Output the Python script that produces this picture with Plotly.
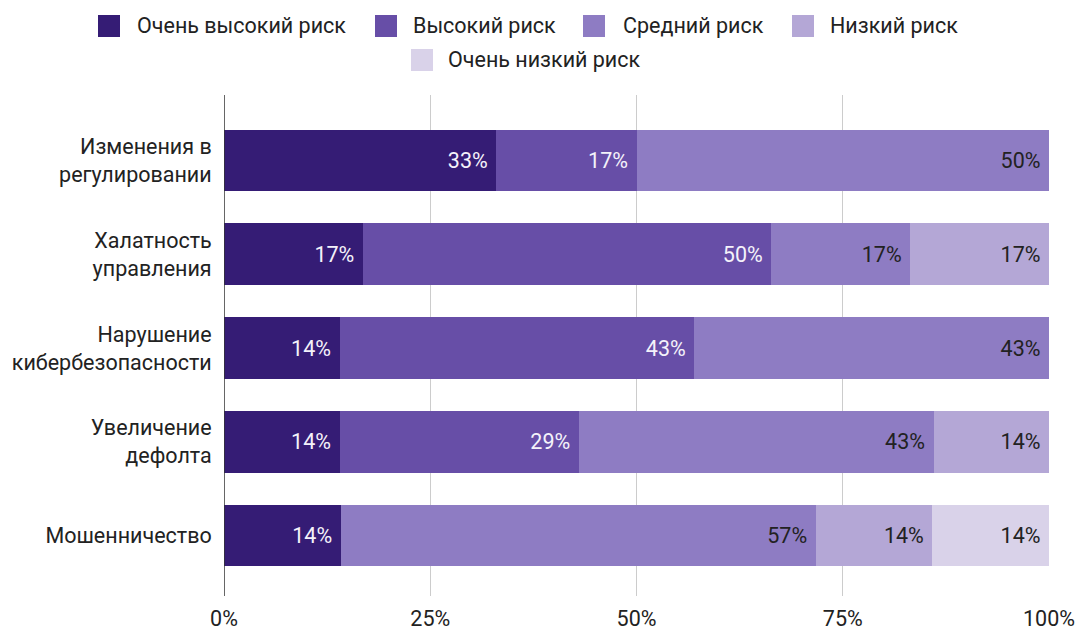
import plotly.graph_objects as go

categories = ["Изменения в<br>регулировании", "Халатность<br>управления", "Нарушение<br>кибербезопасности",
              "Увеличение<br>дефолта", "Мошенничество"]
series_names = ["Очень высокий риск", "Высокий риск", "Средний риск", "Низкий риск", "Очень низкий риск"]
very_high = [33, 17, 14, 14, 14]
high = [17, 50, 43, 29, None]
medium = [50, 17, 43, 43, 57]
low = [None, 17, None, 14, 14]
very_low = [None, None, None, None, 14]
colors = ["#351c75", "#674ea7", "#8e7cc3", "#b4a7d6", "#d9d2e9"]
text_colors = ["#f4f2fa", "#f4f2fa", "#222222", "#222222", "#222222"]
tick_vals = [0, 25, 50, 75, 100]
tick_text = ["0%", "25%", "50%", "75%", "100%"]

FONT = "Roboto"
FS = 21.5
W, H = 1078, 633
L, R, T, B = 224, 29, 95, 37
PW, PH = W - L - R, H - T - B

fig = go.Figure()
for name, vals, col, tcol in zip(series_names, [very_high, high, medium, low, very_low], colors, text_colors):
    fig.add_trace(go.Bar(
        y=categories, x=vals, name=name, orientation="h",
        marker=dict(color=col, line=dict(width=0)),
        text=[f"{v}%\u2005" if v is not None else "" for v in vals],
        textposition="inside", insidetextanchor="end",
        textfont=dict(color=tcol, size=FS, family=FONT),
        constraintext="none", showlegend=False,
        hoverinfo="skip",
    ))


# custom legend (pixel positions -> paper coordinates)
def px(x):
    return (x - L) / PW


def py(y):
    return 1 - (y - T) / PH


legend_items = [
    (98, 137, 26), (375, 413, 26), (583, 623, 26), (792, 830, 26), (411, 448, 60),
]
for (sx, tx, cy), name, col in zip(legend_items, series_names, colors):
    x0, x1, y0, y1 = px(sx), px(sx + 22), py(cy + 11), py(cy - 11)
    fig.add_shape(type="rect", xref="paper", yref="paper", x0=x0, x1=x1, y0=y0, y1=y1,
                  fillcolor=col, line=dict(width=0))
    fig.add_annotation(xref="paper", yref="paper", x=px(tx - 2), y=py(cy), text=name,
                       showarrow=False, xanchor="left", yanchor="middle",
                       font=dict(family=FONT, size=FS, color="#222222"))

fig.update_layout(
    barmode="stack", barnorm="percent", bargap=0.34,
    width=W, height=H,
    margin=dict(l=L, r=R, t=T, b=B, autoexpand=False),
    paper_bgcolor="white", plot_bgcolor="white",
    font=dict(family=FONT, size=FS, color="#222222"),
    showlegend=False,
    uniformtext=dict(mode=False),
)
fig.update_xaxes(range=[0, 100], tickvals=tick_vals, ticktext=tick_text, showgrid=True,
                 gridcolor="#cccccc", gridwidth=1, zeroline=False, showline=False,
                 ticks="outside", ticklen=3, tickcolor="rgba(0,0,0,0)", automargin=False,
                 tickfont=dict(size=FS, color="#222222"), fixedrange=True)
fig.update_yaxes(range=[4.645, -0.699], showgrid=False, showline=False, zeroline=False,
                 ticks="outside", ticklen=7, tickcolor="rgba(0,0,0,0)", automargin=False,
                 tickfont=dict(size=FS, color="#222222"))
fig.add_shape(type="line", xref="x", yref="paper", x0=0, x1=0, y0=0, y1=1,
              line=dict(color="#333333", width=1.5), layer="above")

fig.write_html("out.html", config={"displayModeBar": False, "staticPlot": True},
               post_script="document.body.style.margin='0';document.body.style.overflow='hidden';")
